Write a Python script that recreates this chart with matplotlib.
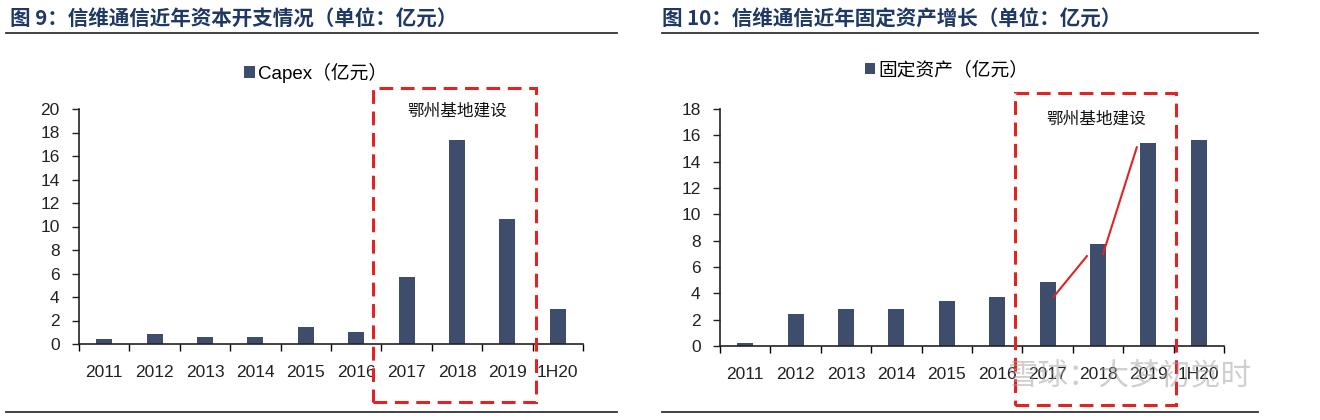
import matplotlib
matplotlib.use("Agg")
import matplotlib.pyplot as plt
from matplotlib.patches import Rectangle, Patch
from matplotlib.lines import Line2D

plt.rcParams['font.family'] = ['Liberation Sans', 'Noto Sans CJK SC', 'DejaVu Sans']

# data
years = ['2011', '2012', '2013', '2014', '2015', '2016', '2017', '2018', '2019', '1H20']
capex = [0.42, 0.85, 0.62, 0.57, 1.47, 1.02, 5.69, 17.34, 10.68, 2.95]
fixed_assets = [0.25, 2.46, 2.78, 2.81, 3.42, 3.72, 4.84, 7.77, 15.39, 15.67]

title_left = '图 9：信维通信近年资本开支情况（单位：亿元）'
title_right = '图 10：信维通信近年固定资产增长（单位：亿元）'
legend_left = 'Capex（亿元）'
legend_right = '固定资产（亿元）'
note = '鄂州基地建设'
watermark = '雪球：大梦初觉时'

W, H = 1320, 420
bar_color = '#3e4d6b'
navy = '#1f3864'
red = '#e02424'

fig = plt.figure(figsize=(W / 100, H / 100), dpi=100)


def px_box(x0, x1, ytop, ybot):
    return [x0 / W, (H - ybot) / H, (x1 - x0) / W, (ybot - ytop) / H]


def draw_panel(rect, vals, ymax, leg_text, leg_pos):
    ax = fig.add_axes(rect)
    x = range(len(years))
    ax.bar(x, vals, width=0.32, color=bar_color, zorder=2)
    ax.set_xlim(-0.5, len(years) - 0.5)
    ax.set_ylim(0, ymax)
    ax.set_yticks(range(0, ymax + 1, 2))
    ax.set_xticks(list(x))
    ax.set_xticklabels(years)
    ax.set_xticks([i + 0.5 for i in range(-1, len(years))], minor=True)
    ax.tick_params(axis='x', which='major', length=0, pad=15, labelsize=12.5, colors='#222222')
    ax.tick_params(axis='x', which='minor', length=5, width=1, direction='out')
    ax.tick_params(axis='y', length=5, width=1, direction='out', pad=9, labelsize=12.5, colors='#222222')
    for s in ['top', 'right']:
        ax.spines[s].set_visible(False)
    for s in ['left', 'bottom']:
        ax.spines[s].set_linewidth(1.2)
        ax.spines[s].set_color('#222222')
    h = Patch(facecolor=bar_color, edgecolor='none')
    ax.legend([h], [leg_text], loc='center', bbox_to_anchor=leg_pos, frameon=False,
              handlelength=0.55, handleheight=0.55, handletextpad=0.2,
              prop={'family': ['Liberation Sans', 'Noto Sans CJK SC'], 'size': 13.5})
    return ax


axl = draw_panel(px_box(79, 583, 109, 344), capex, 20, legend_left, (0.47, 1.155))
axr = draw_panel(px_box(720, 1224, 109, 346), fixed_assets, 18, legend_right, (0.45, 1.165))

# titles and rules
fig.text(10 / W, 1 - 19 / H, title_left, fontsize=14.8, fontweight='bold', color=navy,
         va='center', ha='left', family=['Noto Sans CJK SC', 'DejaVu Sans'])
fig.text(662 / W, 1 - 19 / H, title_right, fontsize=14.8, fontweight='bold', color=navy,
         va='center', ha='left', family=['Noto Sans CJK SC', 'DejaVu Sans'])
for x0, x1, y in [(6, 617, 33), (662, 1258, 33), (6, 617, 412), (662, 1258, 412)]:
    fig.add_artist(Line2D([x0 / W, x1 / W], [1 - y / H, 1 - y / H], color='#333333', lw=1.3))

# red dashed boxes
for x0, x1, y0, y1, tx, ty in [(373, 536, 88, 402, 457, 111), (1015, 1176, 93, 405, 1096, 119)]:
    fig.add_artist(Rectangle((x0 / W, 1 - y1 / H), (x1 - x0) / W, (y1 - y0) / H,
                             fill=False, edgecolor=red, lw=2.2, linestyle=(0, (4.5, 2.5)), zorder=5))
    fig.text(tx / W, 1 - ty / H, note, fontsize=12, ha='center', va='center', color='#111111',
             family=['Noto Sans CJK SC', 'DejaVu Sans'])

# red growth lines on the right panel (data coordinates)
axr.plot([6.12, 6.78], [3.74, 6.83], color=red, lw=1.5, zorder=3)
axr.plot([7.10, 7.77], [6.99, 15.09], color=red, lw=1.5, zorder=3)

# watermark (sits over the tick labels as in the source image)
fig.text(1130 / W, 1 - 376 / H, watermark, fontsize=22, ha='center', va='center',
         color='#a0a0a0', alpha=0.5, family=['Noto Sans CJK SC', 'DejaVu Sans'], zorder=6)

fig.savefig('out.png', dpi=100, facecolor='white')
